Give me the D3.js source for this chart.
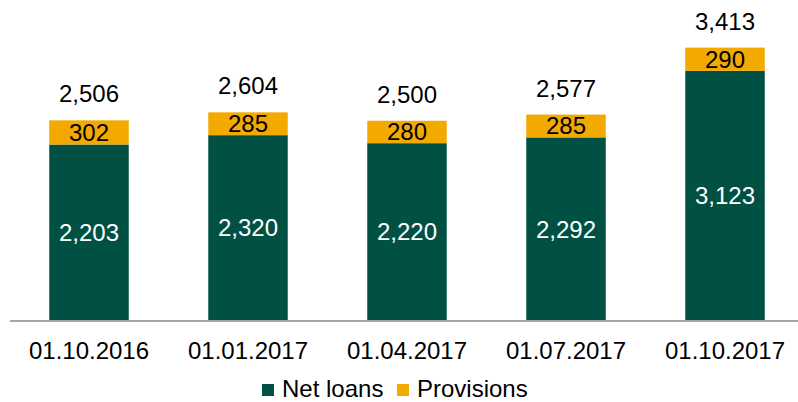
<!DOCTYPE html>
<html>
<head>
<meta charset="utf-8">
<script src="https://cdn.jsdelivr.net/npm/d3@7"></script>
<style>
  body { margin: 0; background: #fff; }
  text { font-family: "Liberation Sans", Arial, sans-serif; }
</style>
</head>
<body>
<svg id="chart" width="798" height="402"></svg>
<script>
'use strict';

// data
var categories = ['01.10.2016', '01.01.2017', '01.04.2017', '01.07.2017', '01.10.2017'];
var netLoans = [2203, 2320, 2220, 2292, 3123];
var provisions = [302, 285, 280, 285, 290];
var totals = [2506, 2604, 2500, 2577, 3413];
var seriesNames = ['Net loans', 'Provisions'];
var seriesColors = ['#005143', '#F2A900'];

var svg = d3.select('#chart');
var fmt = d3.format(',');
var baseY = 321;
var fontSize = 24;

var x = d3.scaleBand()
	.domain(categories)
	.range([9.5, 804.5])
	.paddingInner(0.5)
	.paddingOuter(0.25);

var y = d3.scaleLinear()
	.domain([0, 3500])
	.range([baseY, baseY - 3500 * 0.0801]);

var rows = categories.map(function(c, i) {
	return {cat: c, net: netLoans[i], prov: provisions[i], total: totals[i]};
});
var stacked = d3.stack().keys(['net', 'prov'])(rows);

var g = svg.append('g');

stacked.forEach(function(layer, k) {
	g.append('g').selectAll('rect')
		.data(layer)
		.join('rect')
		.attr('x', function(d) { return x(d.data.cat); })
		.attr('width', x.bandwidth())
		.attr('y', function(d) { return y(d[1]); })
		.attr('height', function(d) { return y(d[0]) - y(d[1]); })
		.attr('fill', seriesColors[k]);

	g.append('g').selectAll('text')
		.data(layer)
		.join('text')
		.attr('x', function(d) { return x(d.data.cat) + x.bandwidth() / 2; })
		.attr('y', function(d) { return (y(d[0]) + y(d[1])) / 2; })
		.attr('dy', '0.35em')
		.attr('text-anchor', 'middle')
		.attr('font-size', fontSize)
		.attr('fill', k === 0 ? '#fff' : '#000')
		.text(function(d) { return fmt(d[1] - d[0]); });
});

// totals above the bars
g.append('g').selectAll('text')
	.data(rows)
	.join('text')
	.attr('x', function(d) { return x(d.cat) + x.bandwidth() / 2; })
	.attr('y', function(d) { return y(d.net + d.prov) - 18; })
	.attr('text-anchor', 'middle')
	.attr('font-size', fontSize)
	.attr('fill', '#000')
	.text(function(d) { return fmt(d.total); });

// x axis
var xAxis = svg.append('g')
	.attr('transform', 'translate(0,' + baseY + ')')
	.call(d3.axisBottom(x).tickSize(0).tickPadding(21));
xAxis.select('.domain').remove();
xAxis.append('line')
	.attr('x1', 10).attr('x2', 798)
	.attr('stroke', '#A6A6A6').attr('stroke-width', 2);
xAxis.selectAll('.tick text')
	.attr('font-size', fontSize)
	.attr('font-family', '"Liberation Sans", Arial, sans-serif')
	.attr('fill', '#000');

// legend (kept just inside the bottom edge)
var legend = svg.append('g');
var legendX = [262, 397];
seriesNames.forEach(function(name, i) {
	legend.append('rect')
		.attr('x', legendX[i]).attr('y', 384)
		.attr('width', 12).attr('height', 12)
		.attr('fill', seriesColors[i]);
	legend.append('text')
		.attr('x', legendX[i] + 20).attr('y', 396.5)
		.attr('font-size', fontSize)
		.text(name);
});
</script>
</body>
</html>
